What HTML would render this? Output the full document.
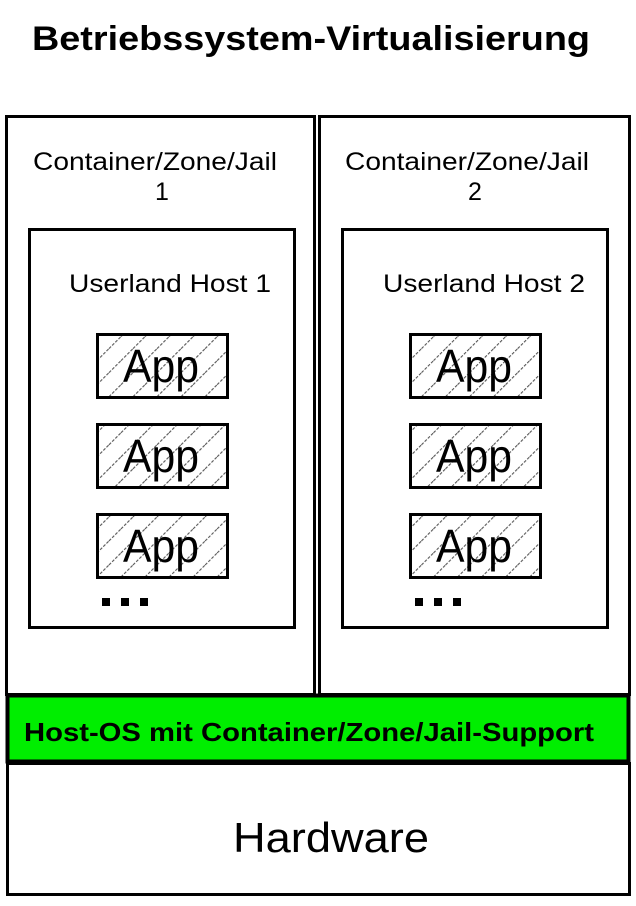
<!DOCTYPE html>
<html><head><meta charset="utf-8"><style>
html,body{margin:0;padding:0;background:#fff;width:636px;height:906px;overflow:hidden}
svg{display:block}
text{font-family:"Liberation Sans",Arial,sans-serif;fill:#000}
</style></head><body>
<svg width="636" height="906" viewBox="0 0 636 906" xmlns="http://www.w3.org/2000/svg">
<defs>
<pattern id="h" patternUnits="userSpaceOnUse" width="17" height="17" patternTransform="rotate(45)">
<line x1="0" y1="0" x2="0" y2="17" stroke="#555" stroke-width="2.2" stroke-dasharray="3,1.5"/>
</pattern>
</defs>
<text x="32" y="50" font-size="34" font-weight="bold" textLength="558" lengthAdjust="spacingAndGlyphs">Betriebssystem-Virtualisierung</text>
<rect x="6.5" y="116.5" width="308" height="578" fill="none" stroke="#000" stroke-width="3"/>
<rect x="319.5" y="116.5" width="310" height="578" fill="none" stroke="#000" stroke-width="3"/>
<text x="155" y="170" font-size="25" text-anchor="middle" textLength="244" lengthAdjust="spacingAndGlyphs">Container/Zone/Jail</text>
<text x="162" y="200" font-size="25" text-anchor="middle">1</text>
<text x="467" y="170" font-size="25" text-anchor="middle" textLength="244" lengthAdjust="spacingAndGlyphs">Container/Zone/Jail</text>
<text x="475" y="200" font-size="25" text-anchor="middle">2</text>
<rect x="29.5" y="229.5" width="265" height="398" fill="none" stroke="#000" stroke-width="3"/>
<rect x="342.5" y="229.5" width="265" height="398" fill="none" stroke="#000" stroke-width="3"/>
<text x="170" y="292" font-size="25" text-anchor="middle" textLength="202" lengthAdjust="spacingAndGlyphs">Userland Host 1</text>
<text x="484" y="292" font-size="25" text-anchor="middle" textLength="202" lengthAdjust="spacingAndGlyphs">Userland Host 2</text>
<g stroke="#000" stroke-width="3">
<rect x="97.5" y="334.5" width="130" height="63" fill="url(#h)"/>
<rect x="97.5" y="424.5" width="130" height="63" fill="url(#h)"/>
<rect x="97.5" y="514.5" width="130" height="63" fill="url(#h)"/>
<rect x="410.5" y="334.5" width="130" height="63" fill="url(#h)"/>
<rect x="410.5" y="424.5" width="130" height="63" fill="url(#h)"/>
<rect x="410.5" y="514.5" width="130" height="63" fill="url(#h)"/>
</g>
<g font-size="46" text-anchor="middle">
<text x="161" y="382" textLength="76" lengthAdjust="spacingAndGlyphs">App</text><text x="161" y="472" textLength="76" lengthAdjust="spacingAndGlyphs">App</text><text x="161" y="562" textLength="76" lengthAdjust="spacingAndGlyphs">App</text>
<text x="474" y="382" textLength="76" lengthAdjust="spacingAndGlyphs">App</text><text x="474" y="472" textLength="76" lengthAdjust="spacingAndGlyphs">App</text><text x="474" y="562" textLength="76" lengthAdjust="spacingAndGlyphs">App</text>
</g>
<g fill="#000">
<rect x="102" y="598" width="8" height="8"/><rect x="121" y="598" width="8" height="8"/><rect x="140" y="598" width="8" height="8"/>
<rect x="415" y="598" width="8" height="8"/><rect x="434" y="598" width="8" height="8"/><rect x="453" y="598" width="8" height="8"/>
</g>
<rect x="7.5" y="695.5" width="621" height="66" fill="#00ee00" stroke="#000" stroke-width="4"/>
<text x="24" y="741" font-size="26" font-weight="bold" textLength="570" lengthAdjust="spacingAndGlyphs">Host-OS mit Container/Zone/Jail-Support</text>
<rect x="7.5" y="763.5" width="622" height="131" fill="none" stroke="#000" stroke-width="3"/>
<text x="331" y="852" font-size="42" text-anchor="middle" textLength="196" lengthAdjust="spacingAndGlyphs">Hardware</text>
</svg>
</body></html>
